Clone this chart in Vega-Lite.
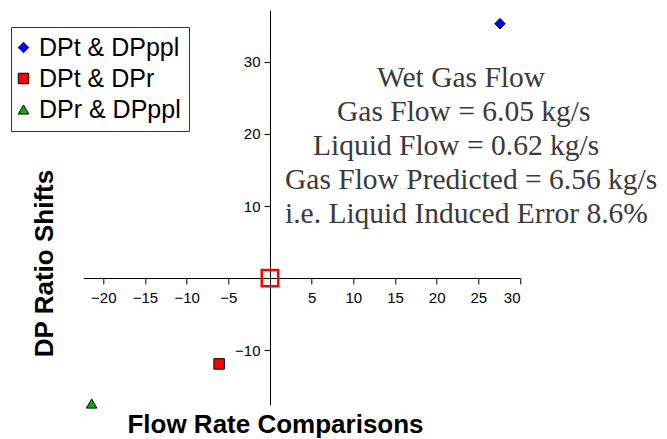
{
  "$schema": "https://vega.github.io/schema/vega-lite/v6.json",
  "autosize": "none",
  "width": 436.7,
  "height": 395,
  "padding": {"left": 83.3, "top": 10, "right": 147, "bottom": 34},
  "config": {"view": {"stroke": null}, "font": "Liberation Sans"},
  "layer": [
    {
      "data": {"values": [
        {"series": "DPt & DPppl", "x": 27.6, "y": 35.3},
        {"series": "DPt & DPr", "x": -6.1, "y": -11.9},
        {"series": "DPr & DPppl", "x": -21.4, "y": -17.4}
      ]},
      "mark": {"type": "point", "filled": true, "opacity": 1, "stroke": "black", "strokeWidth": 1, "size": 110, "clip": false},
      "encoding": {
        "x": {"field": "x", "type": "quantitative",
          "scale": {"domain": [-22.4, 30], "nice": false, "zero": false},
          "axis": {"orient": "bottom", "offset": -127, "values": [-20, -15, -10, -5, 5, 10, 15, 20, 25, 30],
            "grid": false, "tickSize": 6, "tickColor": "black", "domainColor": "black", "tickWidth": 1,
            "labelFontSize": 15, "labelColor": "black", "labelPadding": 6, "labelFont": "Liberation Sans",
            "title": "Flow Rate Comparisons", "titleFontSize": 26, "titleFontWeight": "bold", "titleColor": "black",
            "titleFont": "Liberation Sans", "titleX": 191.7, "titleY": 154, "titleAlign": "center", "titleBaseline": "alphabetic", "titleAnchor": null}},
        "y": {"field": "y", "type": "quantitative",
          "scale": {"domain": [-17.6, 37.2], "nice": false, "zero": false},
          "axis": {"orient": "left", "offset": -186.7, "values": [-10, 10, 20, 30],
            "grid": false, "tickSize": 6, "tickColor": "black", "domainColor": "black",
            "labelFontSize": 15, "labelColor": "black", "labelPadding": 4, "labelFont": "Liberation Sans",
            "title": "DP Ratio Shifts", "titleFontSize": 26, "titleFontWeight": "bold", "titleColor": "black",
            "titleFont": "Liberation Sans", "titleX": -226, "titleY": 253, "titleAngle": -90, "titleAlign": "center", "titleBaseline": "middle", "titleAnchor": null}},
        "color": {"field": "series", "type": "nominal",
          "scale": {"domain": ["DPt & DPppl", "DPt & DPr", "DPr & DPppl"], "range": ["#0000FF", "#FF0000", "#00B000"]},
          "legend": {"orient": "none", "legendX": -72.3, "legendY": 17, "title": null,
            "strokeColor": "#333333", "fillColor": "white", "padding": 8,
            "labelFontSize": 25, "labelColor": "black", "labelFont": "Liberation Sans", "labelOffset": 3, "symbolOffset": -8,
            "rowPadding": 5, "symbolSize": 110, "symbolStrokeColor": "black", "symbolStrokeWidth": 1, "labelLimit": 300}},
        "shape": {"field": "series", "type": "nominal",
          "scale": {"domain": ["DPt & DPppl", "DPt & DPr", "DPr & DPppl"], "range": ["diamond", "square", "triangle-up"]}}
      }
    },
    {
      "data": {"values": [{"x": 0, "y": 0}]},
      "mark": {"type": "point", "shape": "square", "filled": false, "stroke": "#FF0000", "strokeWidth": 2.5, "size": 270, "opacity": 1},
      "encoding": {"x": {"field": "x", "type": "quantitative"}, "y": {"field": "y", "type": "quantitative"}}
    },
    {
      "data": {"values": [{"t": "Wet Gas Flow"}]},
      "mark": {"type": "text", "font": "Liberation Serif", "fontSize": 29.5, "color": "#3a3a3a", "align": "left", "baseline": "alphabetic"},
      "encoding": {"text": {"field": "t"}, "x": {"datum": 12.84}, "y": {"datum": 26.53}}
    },
    {
      "data": {"values": [{"t": "Gas Flow = 6.05 kg/s"}]},
      "mark": {"type": "text", "font": "Liberation Serif", "fontSize": 29.5, "color": "#3a3a3a", "align": "left", "baseline": "alphabetic"},
      "encoding": {"text": {"field": "t"}, "x": {"datum": 8.04}, "y": {"datum": 21.8}}
    },
    {
      "data": {"values": [{"t": "Liquid Flow = 0.62 kg/s"}]},
      "mark": {"type": "text", "font": "Liberation Serif", "fontSize": 29.5, "color": "#3a3a3a", "align": "left", "baseline": "alphabetic"},
      "encoding": {"text": {"field": "t"}, "x": {"datum": 5.16}, "y": {"datum": 17.08}}
    },
    {
      "data": {"values": [{"t": "Gas Flow Predicted = 6.56 kg/s"}]},
      "mark": {"type": "text", "font": "Liberation Serif", "fontSize": 29.5, "color": "#3a3a3a", "align": "left", "baseline": "alphabetic"},
      "encoding": {"text": {"field": "t"}, "x": {"datum": 1.8}, "y": {"datum": 12.36}}
    },
    {
      "data": {"values": [{"t": "i.e. Liquid Induced Error 8.6%"}]},
      "mark": {"type": "text", "font": "Liberation Serif", "fontSize": 29.5, "color": "#3a3a3a", "align": "left", "baseline": "alphabetic"},
      "encoding": {"text": {"field": "t"}, "x": {"datum": 1.8}, "y": {"datum": 7.64}}
    }
  ]
}
